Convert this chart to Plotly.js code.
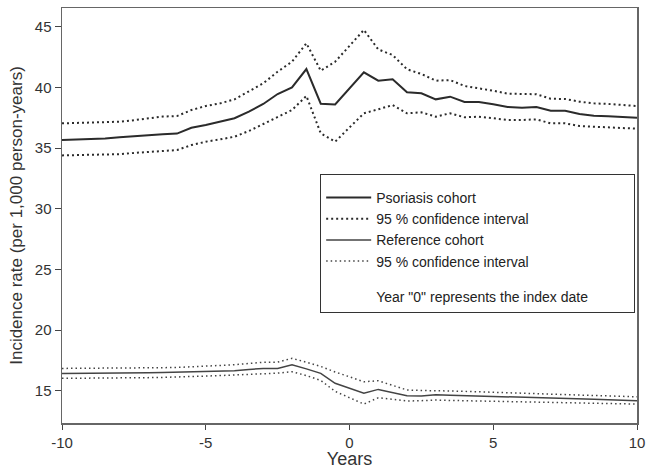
<!DOCTYPE html>
<html>
<head>
<meta charset="utf-8">
<script src="https://cdn.plot.ly/plotly-3.0.1.min.js"></script>
<style>html,body{margin:0;padding:0;background:#fff;}#chart{width:646px;height:469px;}</style>
</head>
<body>
<div id="chart"></div>
<script>
var years = [-10,-9.5,-9,-8.5,-8,-7.5,-7,-6.5,-6,-5.5,-5,-4.5,-4,-3.5,-3,-2.5,-2,-1.5,-1,-0.5,
             0.5,1,1.5,2,2.5,3,3.5,4,4.5,5,5.5,6,6.5,7,7.5,8,8.5,9,9.5,10];
var psoriasis = [35.67,35.7,35.75,35.8,35.9,36.0,36.1,36.15,36.2,36.68,36.9,37.18,37.46,38.0,38.64,39.46,40.0,41.52,38.66,38.6,
                 41.25,40.56,40.67,39.6,39.52,39.02,39.24,38.8,38.8,38.61,38.39,38.33,38.39,38.08,38.08,37.81,37.67,37.62,37.54,37.5];
var psoriasisUpper = [37.04,37.06,37.08,37.1,37.18,37.3,37.45,37.6,37.64,38.14,38.47,38.69,39.02,39.65,40.34,41.3,42.12,43.64,41.38,42.12,
                      44.74,43.14,42.67,41.5,41.11,40.56,40.61,40.12,39.95,39.73,39.49,39.44,39.44,39.07,39.05,38.83,38.69,38.64,38.55,38.47];
var psoriasisLower = [34.4,34.42,34.43,34.46,34.5,34.6,34.7,34.8,34.84,35.25,35.53,35.72,35.94,36.41,36.98,37.59,38.14,39.3,36.22,35.53,
                      37.87,38.2,38.55,37.87,37.95,37.59,37.87,37.54,37.59,37.46,37.32,37.32,37.37,37.04,37.04,36.82,36.77,36.74,36.68,36.6];
var reference = [16.43,16.43,16.43,16.43,16.43,16.45,16.48,16.5,16.52,16.55,16.57,16.6,16.65,16.75,16.84,16.84,17.14,16.8,16.43,15.61,
                 14.79,15.11,14.85,14.59,14.56,14.67,14.63,14.6,14.57,14.55,14.5,14.47,14.43,14.4,14.38,14.35,14.3,14.25,14.2,14.18];
var referenceUpper = [16.84,16.84,16.84,16.84,16.85,16.86,16.88,16.9,16.92,16.97,17.03,17.08,17.14,17.25,17.34,17.36,17.67,17.35,17.0,16.55,
                      15.74,15.82,15.45,15.06,15.02,15.02,14.98,14.95,14.92,14.88,14.84,14.8,14.76,14.72,14.68,14.64,14.6,14.56,14.52,14.5];
var referenceLower = [16.02,16.02,16.02,16.02,16.03,16.05,16.08,16.1,16.12,16.17,16.21,16.25,16.3,16.37,16.43,16.45,16.57,16.25,15.85,14.95,
                      13.9,14.42,14.3,14.15,14.18,14.23,14.2,14.18,14.16,14.14,14.12,14.1,14.08,14.06,14.03,14.0,13.97,13.94,13.92,13.9];
var xTicks = [-10,-5,0,5,10];
var yTicks = [15,20,25,30,35,40,45];

var dark = '#2b2b2b';
var traces = [
  {x: years, y: psoriasis, mode: 'lines', name: 'Psoriasis cohort', legendgroup: 'a',
   line: {color: dark, width: 2}},
  {x: years, y: psoriasisLower, mode: 'lines', name: '95 % confidence interval', legendgroup: 'a',
   line: {color: dark, width: 2, dash: '2px,3px'}},
  {x: years, y: psoriasisUpper, mode: 'lines', showlegend: false, legendgroup: 'a',
   line: {color: dark, width: 2, dash: '2px,3px'}},
  {x: years, y: reference, mode: 'lines', name: 'Reference cohort', legendgroup: 'a',
   line: {color: '#444', width: 1.5}},
  {x: years, y: referenceLower, mode: 'lines', name: '95 % confidence interval', legendgroup: 'a',
   line: {color: '#444', width: 1.5, dash: '1.5px,3px'}},
  {x: years, y: referenceUpper, mode: 'lines', showlegend: false, legendgroup: 'a',
   line: {color: '#444', width: 1.5, dash: '1.5px,3px'}},
  {x: [null], y: [null], mode: 'lines', name: 'Year "0" represents the index date', legendgroup: 'b',
   line: {color: 'rgba(0,0,0,0)', width: 0}}
];

// invisible spacer title that widens the legend box to the reference's width
var legendSpacer = '\u00a0'.repeat(222);

var layout = {
  width: 646, height: 469,
  margin: {l: 62, r: 9, t: 8, b: 46},
  paper_bgcolor: '#fff', plot_bgcolor: '#fff',
  font: {family: 'Liberation Sans, Arial, sans-serif', color: '#333'},
  showlegend: true,
  legend: {x: 0.449, y: 0.599, xanchor: 'left', yanchor: 'top',
           bordercolor: '#333', borderwidth: 1, bgcolor: '#fff',
           font: {size: 14, color: '#222'}, traceorder: 'grouped', tracegroupgap: 14,
           itemwidth: 45,
           title: {text: legendSpacer, font: {size: 5}}},
  xaxis: {range: [-10, 10], tickvals: xTicks, ticktext: xTicks.map(String),
          showgrid: false, zeroline: false, showline: true, linecolor: '#666', linewidth: 1.5,
          mirror: true, ticks: 'outside', ticklen: 5, tickcolor: '#444',
          tickfont: {size: 15, color: '#333'},
          title: {text: 'Years', font: {size: 18, color: '#333'}, standoff: 8}},
  yaxis: {range: [12.34, 46.55], tickvals: yTicks, ticktext: yTicks.map(String),
          showgrid: false, zeroline: false, showline: true, linecolor: '#666', linewidth: 1.5,
          mirror: true, ticks: 'outside', ticklen: 6, tickcolor: '#444',
          tickfont: {size: 15, color: '#333'},
          title: {text: 'Incidence rate (per 1,000 person-years)', font: {size: 17, color: '#333'}, standoff: 8}}
};

Plotly.newPlot('chart', traces, layout, {displayModeBar: false, staticPlot: true});
</script>
</body>
</html>
